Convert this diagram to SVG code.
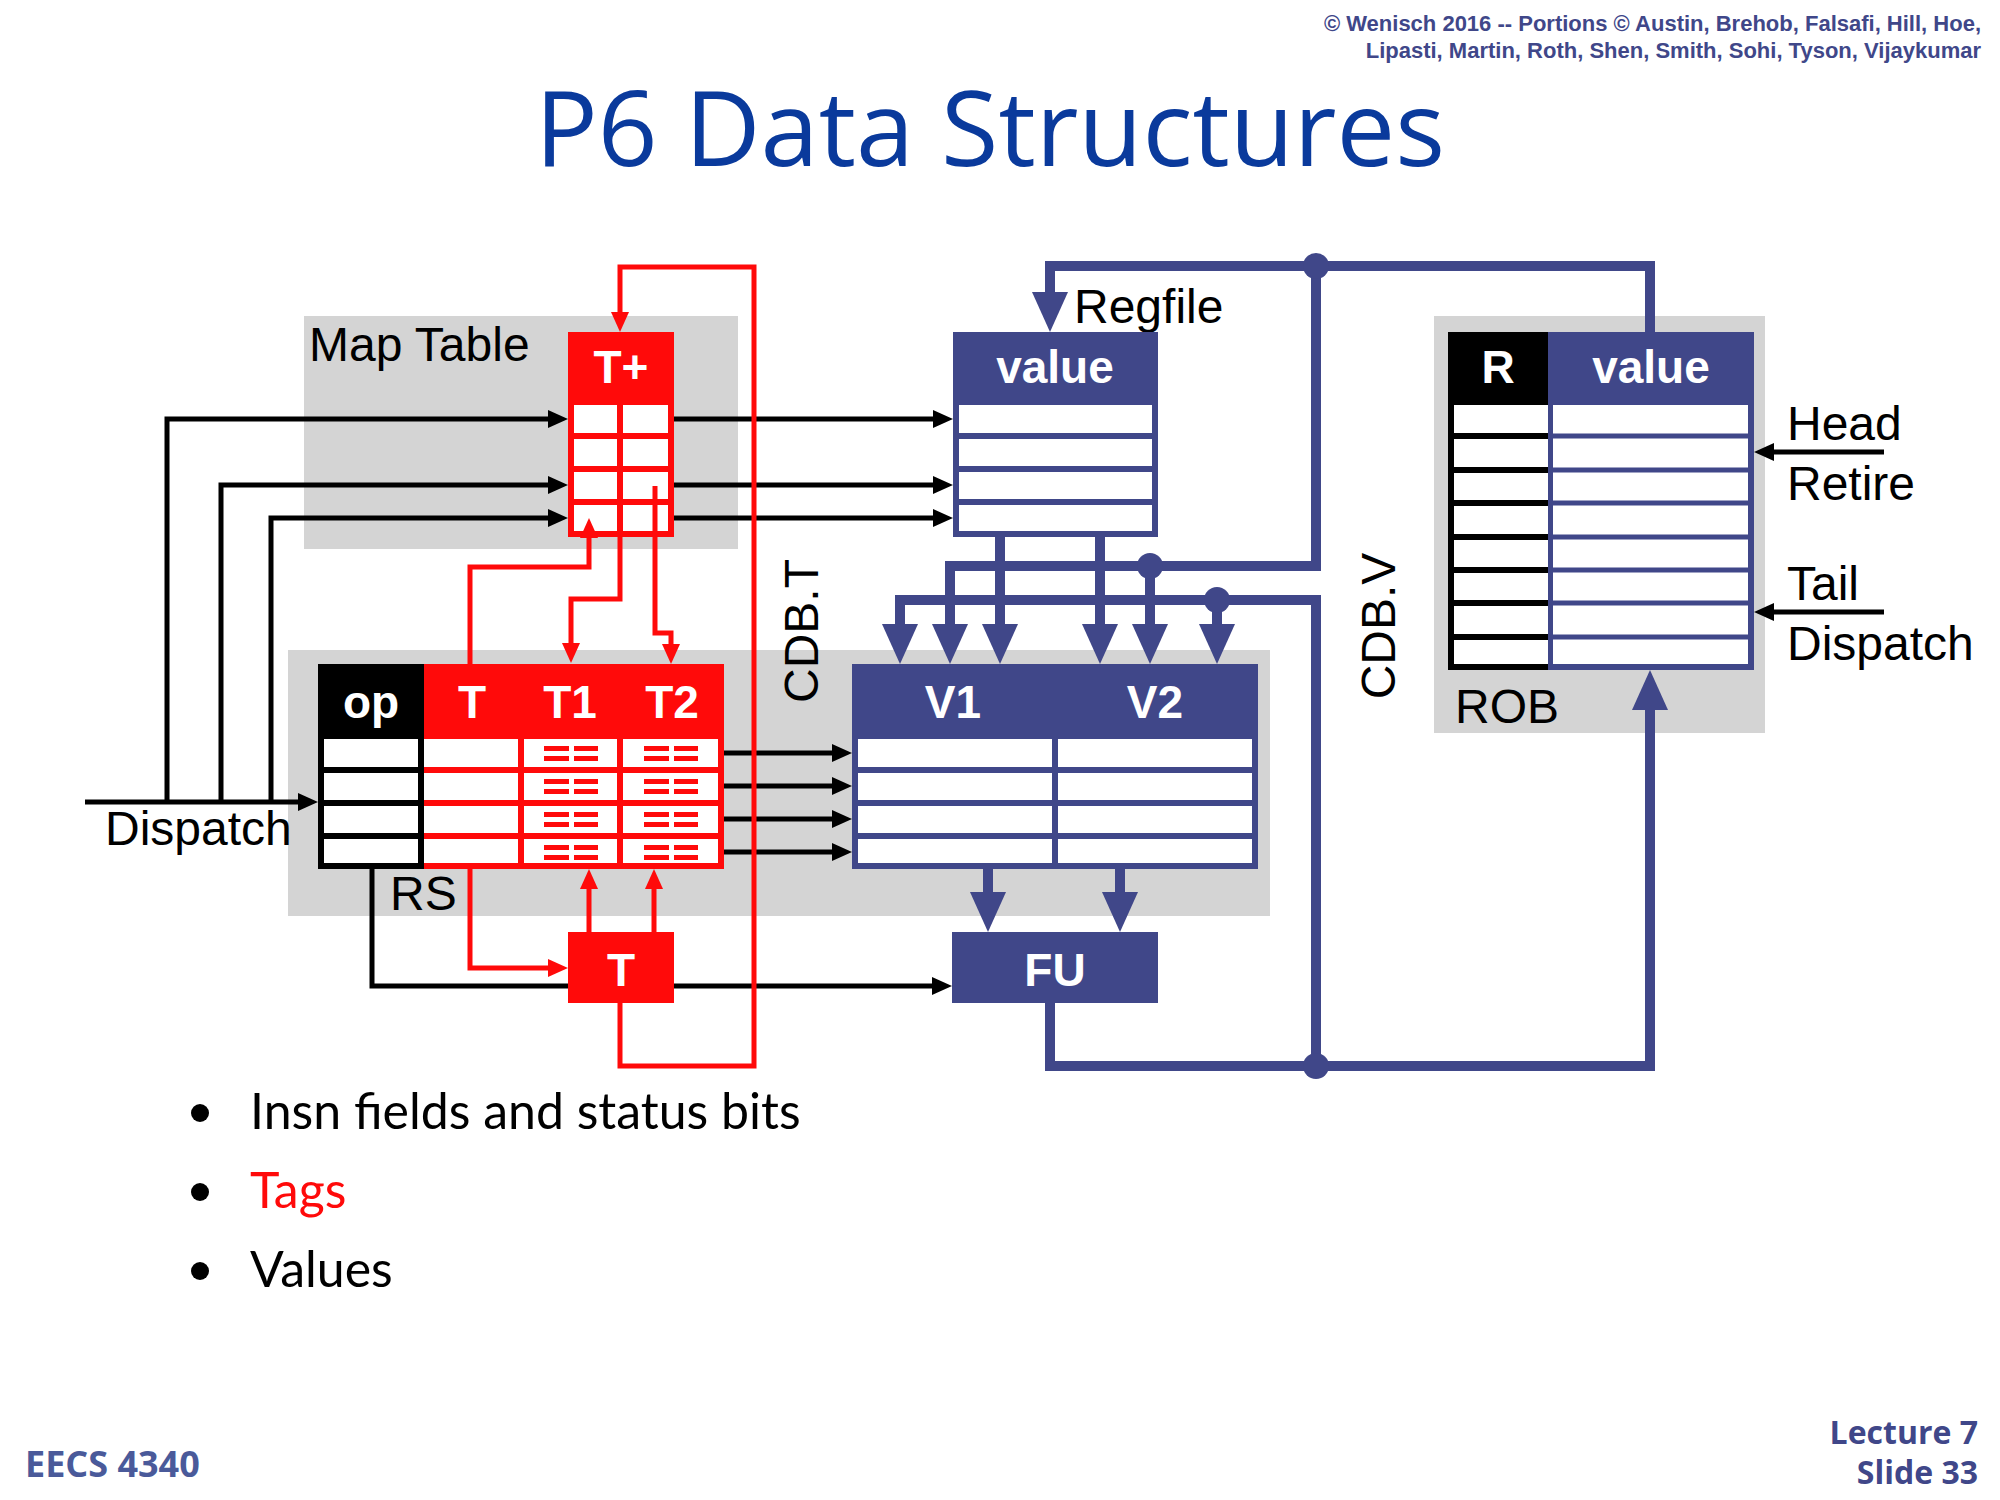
<svg xmlns="http://www.w3.org/2000/svg" width="2000" height="1500" viewBox="0 0 2000 1500">
<style>
.gray{fill:#d4d4d4}
.lbl{font-family:"Liberation Sans",Arial,sans-serif;font-size:48px;fill:#000}
.hdr{font-family:"Liberation Sans",Arial,sans-serif;font-size:46px;font-weight:bold;fill:#fff;text-anchor:middle}
.bk{fill:none;stroke:#000;stroke-width:5}
.rd{fill:none;stroke:#ff0a0a;stroke-width:5}
.bl{fill:none;stroke:#404789;stroke-width:10}
.bul{font-family:Lato,"Open Sans",sans-serif;font-size:50px}
</style>
<defs>
<marker id="ab" markerUnits="userSpaceOnUse" markerWidth="20" markerHeight="18" refX="0" refY="9" orient="auto"><path d="M0,0 L20,9 L0,18 z" fill="#000"/></marker>
<marker id="ar" markerUnits="userSpaceOnUse" markerWidth="20" markerHeight="18" refX="0" refY="9" orient="auto"><path d="M0,0 L20,9 L0,18 z" fill="#ff0a0a"/></marker>
<marker id="au" markerUnits="userSpaceOnUse" markerWidth="40" markerHeight="36" refX="0" refY="18" orient="auto"><path d="M0,0 L40,18 L0,36 z" fill="#404789"/></marker>
<g id="dash"><rect x="-26" y="-7" width="25" height="5" fill="#ff0a0a"/><rect x="4" y="-7" width="24" height="5" fill="#ff0a0a"/><rect x="-26" y="3" width="25" height="5" fill="#ff0a0a"/><rect x="4" y="3" width="24" height="5" fill="#ff0a0a"/></g>
</defs>
<rect width="2000" height="1500" fill="#fff"/>

<g id="header">
<text x="1981" y="31" text-anchor="end" font-family="Liberation Sans,Arial,sans-serif" font-size="22" font-weight="bold" fill="#404789">© Wenisch 2016 -- Portions © Austin, Brehob, Falsafi, Hill, Hoe,</text>
<text x="1981" y="58" text-anchor="end" font-family="Liberation Sans,Arial,sans-serif" font-size="22" font-weight="bold" fill="#404789">Lipasti, Martin, Roth, Shen, Smith, Sohi, Tyson, Vijaykumar</text>
<text x="990" y="166" text-anchor="middle" font-family="Open Sans,sans-serif" font-size="104" fill="#0a3a9c" textLength="910" lengthAdjust="spacingAndGlyphs">P6 Data Structures</text>
</g>

<g id="areas">
<rect class="gray" x="304" y="316" width="434" height="233"/>
<rect class="gray" x="288" y="650" width="982" height="266"/>
<rect class="gray" x="1434" y="316" width="331" height="417"/>
<text class="lbl" x="309" y="361">Map Table</text>
<text class="lbl" x="390" y="910">RS</text>
<text class="lbl" x="1455" y="723">ROB</text>
<text class="lbl" x="1074" y="323">Regfile</text>
<text class="lbl" x="105" y="845">Dispatch</text>
<text class="lbl" x="1787" y="440">Head</text>
<text class="lbl" x="1787" y="500">Retire</text>
<text class="lbl" x="1787" y="600">Tail</text>
<text class="lbl" x="1787" y="660">Dispatch</text>
<text class="lbl" transform="translate(818,631) rotate(-90)" text-anchor="middle">CDB.T</text>
<text class="lbl" transform="translate(1395,626) rotate(-90)" text-anchor="middle">CDB.V</text>
</g>

<g id="connectors">
<path class="bk" d="M85,802 H298" marker-end="url(#ab)"/>
<path class="bk" d="M167,802 V419 H548" marker-end="url(#ab)"/>
<path class="bk" d="M221,802 V485 H548" marker-end="url(#ab)"/>
<path class="bk" d="M271,802 V518 H548" marker-end="url(#ab)"/>
<path class="bk" d="M674,419 H933" marker-end="url(#ab)"/>
<path class="bk" d="M674,485 H933" marker-end="url(#ab)"/>
<path class="bk" d="M674,518 H933" marker-end="url(#ab)"/>
<path class="bk" d="M724,753 H832" marker-end="url(#ab)"/>
<path class="bk" d="M724,786 H832" marker-end="url(#ab)"/>
<path class="bk" d="M724,819 H832" marker-end="url(#ab)"/>
<path class="bk" d="M724,852 H832" marker-end="url(#ab)"/>
<path class="bk" d="M372,869 V986 H932" marker-end="url(#ab)"/>
<path class="bk" d="M1884,452 H1774" marker-end="url(#ab)"/>
<path class="bk" d="M1884,612 H1774" marker-end="url(#ab)"/>

<path class="bl" d="M1650,332 V266 H1050 V292" marker-end="url(#au)"/>
<path class="bl" d="M1316,266 V566 H950 V624" marker-end="url(#au)"/>
<path class="bl" d="M1150,566 V624" marker-end="url(#au)"/>
<path class="bl" d="M1316,1066 V600 H900 V624" marker-end="url(#au)"/>
<path class="bl" d="M1217,600 V624" marker-end="url(#au)"/>
<path class="bl" d="M1000,537 V624" marker-end="url(#au)"/>
<path class="bl" d="M1100,537 V624" marker-end="url(#au)"/>
<path class="bl" d="M988,869 V892" marker-end="url(#au)"/>
<path class="bl" d="M1120,869 V892" marker-end="url(#au)"/>
<path class="bl" d="M1050,1003 V1066 H1650 V710" marker-end="url(#au)"/>
<circle cx="1316" cy="266" r="13" fill="#404789"/>
<circle cx="1150" cy="566" r="13" fill="#404789"/>
<circle cx="1217" cy="600" r="13" fill="#404789"/>
<circle cx="1316" cy="1066" r="13" fill="#404789"/>
</g>

<g id="maptable">
<rect x="568" y="332" width="106" height="205" fill="#ff0a0a"/>
<rect x="574" y="405" width="94" height="126" fill="#fff"/>
<path d="M574,436 H668 M574,469 H668 M574,502 H668 M620,405 V531" stroke="#ff0a0a" stroke-width="6"/>
<text class="hdr" x="621" y="383">T+</text>
</g>

<g id="regfile">
<rect x="953" y="332" width="205" height="205" fill="#404789"/>
<rect x="959" y="405" width="193" height="126" fill="#fff"/>
<path d="M959,436 H1152 M959,469 H1152 M959,502 H1152" stroke="#404789" stroke-width="6"/>
<text class="hdr" x="1055" y="383">value</text>
</g>

<g id="rs">
<rect x="318" y="664" width="106" height="205" fill="#000"/>
<rect x="324" y="739" width="94" height="124" fill="#fff"/>
<path d="M324,770 H418 M324,803 H418 M324,836 H418" stroke="#000" stroke-width="6"/>
<rect x="424" y="664" width="300" height="205" fill="#ff0a0a"/>
<rect x="424" y="739" width="294" height="124" fill="#fff"/>
<path d="M424,770 H718 M424,803 H718 M424,836 H718 M521,739 V863 M620,739 V863" stroke="#ff0a0a" stroke-width="6"/>
<use href="#dash" x="570" y="753"/><use href="#dash" x="570" y="786"/><use href="#dash" x="570" y="819"/><use href="#dash" x="570" y="852"/>
<use href="#dash" x="670" y="753"/><use href="#dash" x="670" y="786"/><use href="#dash" x="670" y="819"/><use href="#dash" x="670" y="852"/>
<text class="hdr" x="371" y="718">op</text>
<text class="hdr" x="472" y="718">T</text>
<text class="hdr" x="570" y="718">T1</text>
<text class="hdr" x="672" y="718">T2</text>
</g>

<g id="vtable">
<rect x="852" y="664" width="406" height="205" fill="#404789"/>
<rect x="858" y="739" width="394" height="124" fill="#fff"/>
<path d="M858,770 H1252 M858,803 H1252 M858,836 H1252 M1055,739 V863" stroke="#404789" stroke-width="6"/>
<text class="hdr" x="953" y="718">V1</text>
<text class="hdr" x="1155" y="718">V2</text>
</g>

<g id="rob">
<rect x="1448" y="332" width="100" height="338" fill="#000"/>
<rect x="1548" y="332" width="206" height="338" fill="#404789"/>
<rect x="1454" y="405" width="94" height="259" fill="#fff"/>
<rect x="1553" y="405" width="195" height="259" fill="#fff"/>
<path d="M1454,436 H1548 M1454,470 H1548 M1454,503 H1548 M1454,537 H1548 M1454,570 H1548 M1454,603 H1548 M1454,637 H1548" stroke="#000" stroke-width="6"/>
<path d="M1553,436 H1748 M1553,470 H1748 M1553,503 H1748 M1553,537 H1748 M1553,570 H1748 M1553,603 H1748 M1553,637 H1748" stroke="#404789" stroke-width="5"/>
<text class="hdr" x="1498" y="383">R</text>
<text class="hdr" x="1651" y="383">value</text>
</g>

<g id="redwires">
<path class="rd" d="M620,1003 V1066 H754 V267 H620 V312" marker-end="url(#ar)"/>
<path class="rd" d="M620,420 V599 H571 V643" marker-end="url(#ar)"/>
<path class="rd" d="M655,486 V633 H671 V644" marker-end="url(#ar)"/>
<path class="rd" d="M470,664 V567 H589 V538" marker-end="url(#ar)"/>
<path class="rd" d="M470,869 V968 H548" marker-end="url(#ar)"/>
<path class="rd" d="M589,932 V889" marker-end="url(#ar)"/>
<path class="rd" d="M654,932 V889" marker-end="url(#ar)"/>
</g>

<g id="tbox">
<rect x="568" y="932" width="106" height="71" fill="#ff0a0a"/>
<text class="hdr" x="621" y="986">T</text>
</g>
<g id="fu">
<rect x="952" y="932" width="206" height="71" fill="#404789"/>
<text class="hdr" x="1055" y="986">FU</text>
</g>

<g id="bullets">
<circle cx="200" cy="1113" r="9" fill="#000"/>
<circle cx="200" cy="1192" r="9" fill="#000"/>
<circle cx="200" cy="1271" r="9" fill="#000"/>
<text class="bul" x="250" y="1129" fill="#000">Insn fields and status bits</text>
<text class="bul" x="250" y="1208" fill="#ff0a0a">Tags</text>
<text class="bul" x="250" y="1287" fill="#000">Values</text>
</g>

<g id="footer">
<text x="25" y="1477" font-family="Open Sans,sans-serif" font-size="36" font-weight="bold" fill="#4a5a9a">EECS 4340</text>
<text x="1978" y="1444" text-anchor="end" font-family="Open Sans,sans-serif" font-size="32" font-weight="bold" fill="#404789">Lecture 7</text>
<text x="1978" y="1484" text-anchor="end" font-family="Open Sans,sans-serif" font-size="32" font-weight="bold" fill="#404789">Slide 33</text>
</g>
</svg>
